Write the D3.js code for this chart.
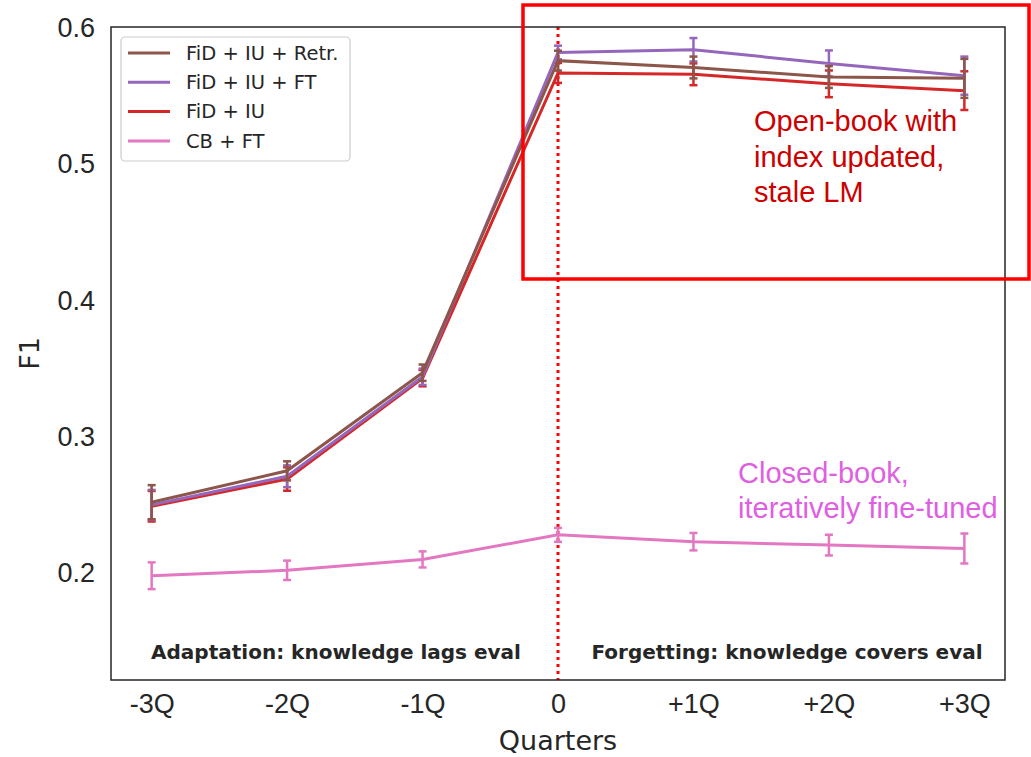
<!DOCTYPE html>
<html>
<head>
<meta charset="utf-8">
<script src="https://cdn.jsdelivr.net/npm/d3@7"></script>
<style>
  body { margin: 0; background: #fff; }
  svg { font-family: "DejaVu Sans", sans-serif; }
</style>
</head>
<body>
<div id="chart"></div>
<script>
let width = 1031, height = 757;

// quarters relative to the eval period
let quarterPos = [-3, -2, -1, 0, 1, 2, 3];
let quarterLabels = ["-3Q", "-2Q", "-1Q", "0", "+1Q", "+2Q", "+3Q"];
let yTicks = [0.2, 0.3, 0.4, 0.5, 0.6];

let seriesNames = ["FiD + IU + Retr.", "FiD + IU + FT", "FiD + IU", "CB + FT"];
let seriesColors = ["#8c564b", "#9467bd", "#d62728", "#e377c2"];

let retrF1 = [0.252, 0.275, 0.347, 0.576, 0.571, 0.564, 0.563];
let retrErr = [0.0125, 0.007, 0.006, 0.0073, 0.008, 0.008, 0.0143];
let ftF1 = [0.250, 0.271, 0.344, 0.582, 0.584, 0.574, 0.565];
let ftErr = [0.011, 0.008, 0.006, 0.005, 0.0086, 0.0095, 0.014];
let iuF1 = [0.249, 0.269, 0.343, 0.567, 0.566, 0.559, 0.554];
let iuErr = [0.0112, 0.0086, 0.006, 0.0073, 0.008, 0.0098, 0.0142];
let cbF1 = [0.198, 0.202, 0.210, 0.228, 0.223, 0.2205, 0.218];
let cbErr = [0.0098, 0.0071, 0.0059, 0.0051, 0.0064, 0.0076, 0.011];

let allValues = [retrF1, ftF1, iuF1, cbF1];
let allErrors = [retrErr, ftErr, iuErr, cbErr];

let svg = d3.select("#chart").append("svg")
    .attr("width", width)
    .attr("height", height);

let plot = {left: 111, right: 1005, top: 27, bottom: 680};

let x = d3.scaleLinear()
    .domain([-3.3, 3.3])
    .range([plot.left, plot.right]);

let y = d3.scaleLinear()
    .domain([0.1215, 0.6007])
    .range([plot.bottom, plot.top]);

// axes (no tick marks, seaborn white style)
let xAxis = svg.append("g")
    .attr("transform", `translate(0, ${plot.bottom})`)
    .call(d3.axisBottom(x).tickValues(quarterPos)
        .tickFormat((d, i) => quarterLabels[i]).tickSize(0).tickPadding(14));
xAxis.select(".domain").remove();
xAxis.selectAll("text")
    .style("font-size", "27px")
    .attr("fill", "#262626");

let yAxis = svg.append("g")
    .attr("transform", `translate(${plot.left}, 0)`)
    .call(d3.axisLeft(y).tickValues(yTicks).tickFormat(d3.format(".1f"))
        .tickSize(0).tickPadding(16));
yAxis.select(".domain").remove();
yAxis.selectAll("text")
    .style("font-size", "27px")
    .attr("fill", "#262626");

// axis labels
svg.append("text")
    .attr("x", (plot.left + plot.right) / 2)
    .attr("y", 750)
    .attr("text-anchor", "middle")
    .style("font-size", "27px")
    .attr("fill", "#262626")
    .text("Quarters");

svg.append("text")
    .attr("transform", `translate(39, ${(plot.top + plot.bottom) / 2}) rotate(-90)`)
    .attr("text-anchor", "middle")
    .style("font-size", "27px")
    .attr("fill", "#262626")
    .text("F1");

// dotted divider at quarter 0
svg.append("line")
    .attr("x1", x(0)).attr("x2", x(0))
    .attr("y1", plot.top).attr("y2", plot.bottom)
    .attr("stroke", "#ff0000")
    .attr("stroke-width", 3)
    .attr("stroke-dasharray", "3,4");

// series lines + error bars
let line = d3.line()
    .x((d, i) => x(quarterPos[i]))
    .y(d => y(d));

let drawOrder = [3, 2, 1, 0];
drawOrder.forEach(function(s) {
    let g = svg.append("g");
    let vals = allValues[s], errs = allErrors[s], col = seriesColors[s];

    g.append("path")
        .datum(vals)
        .attr("fill", "none")
        .attr("stroke", col)
        .attr("stroke-width", 3)
        .attr("d", line);

    let bars = g.selectAll(".err").data(vals).enter().append("g");
    bars.append("line")
        .attr("x1", (d, i) => x(quarterPos[i]))
        .attr("x2", (d, i) => x(quarterPos[i]))
        .attr("y1", (d, i) => y(d - errs[i]))
        .attr("y2", (d, i) => y(d + errs[i]))
        .attr("stroke", col)
        .attr("stroke-width", 2.5);
    [-1, 1].forEach(function(sign) {
        bars.append("line")
            .attr("x1", (d, i) => x(quarterPos[i]) - 4)
            .attr("x2", (d, i) => x(quarterPos[i]) + 4)
            .attr("y1", (d, i) => y(d + sign * errs[i]))
            .attr("y2", (d, i) => y(d + sign * errs[i]))
            .attr("stroke", col)
            .attr("stroke-width", 2.5);
    });
});

// frame
svg.append("rect")
    .attr("x", plot.left).attr("y", plot.top)
    .attr("width", plot.right - plot.left)
    .attr("height", plot.bottom - plot.top)
    .attr("fill", "none")
    .attr("stroke", "#262626")
    .attr("stroke-width", 1.5);

// region labels
svg.append("text")
    .attr("x", 336)
    .attr("y", 659)
    .attr("text-anchor", "middle")
    .style("font-size", "20px")
    .style("font-weight", "bold")
    .attr("fill", "#262626")
    .text("Adaptation: knowledge lags eval");

svg.append("text")
    .attr("x", 787)
    .attr("y", 659)
    .attr("text-anchor", "middle")
    .style("font-size", "20px")
    .style("font-weight", "bold")
    .attr("fill", "#262626")
    .text("Forgetting: knowledge covers eval");

// legend
let legend = svg.append("g");
legend.append("rect")
    .attr("x", 121).attr("y", 37)
    .attr("width", 229).attr("height", 124)
    .attr("rx", 4)
    .attr("fill", "#fff")
    .attr("fill-opacity", 0.8)
    .attr("stroke", "#cccccc")
    .attr("stroke-width", 1.2);

seriesNames.forEach(function(name, i) {
    let ly = 53 + i * 29.3;
    legend.append("line")
        .attr("x1", 128).attr("x2", 170)
        .attr("y1", ly).attr("y2", ly)
        .attr("stroke", seriesColors[i])
        .attr("stroke-width", 3);
    legend.append("text")
        .attr("x", 186).attr("y", ly)
        .attr("dy", "0.35em")
        .style("font-size", "19.5px")
        .attr("fill", "#262626")
        .text(name);
});

// highlight box and annotations
svg.append("rect")
    .attr("x", 523).attr("y", 5)
    .attr("width", 506).attr("height", 274)
    .attr("fill", "none")
    .attr("stroke", "#ff0000")
    .attr("stroke-width", 3.5);

let openLines = ["Open-book with", "index updated,", "stale LM"];
openLines.forEach(function(t, i) {
    svg.append("text")
        .attr("x", 754).attr("y", 131 + i * 35.7)
        .style("font-family", "'Liberation Sans', Arial, sans-serif")
        .style("font-size", "29px")
        .attr("fill", "#cc0000")
        .text(t);
});

let closedLines = ["Closed-book,", "iteratively fine-tuned"];
closedLines.forEach(function(t, i) {
    svg.append("text")
        .attr("x", 738).attr("y", 483 + i * 35)
        .style("font-family", "'Liberation Sans', Arial, sans-serif")
        .style("font-size", "29px")
        .attr("fill", "#df5fe3")
        .text(t);
});
</script>
</body>
</html>
